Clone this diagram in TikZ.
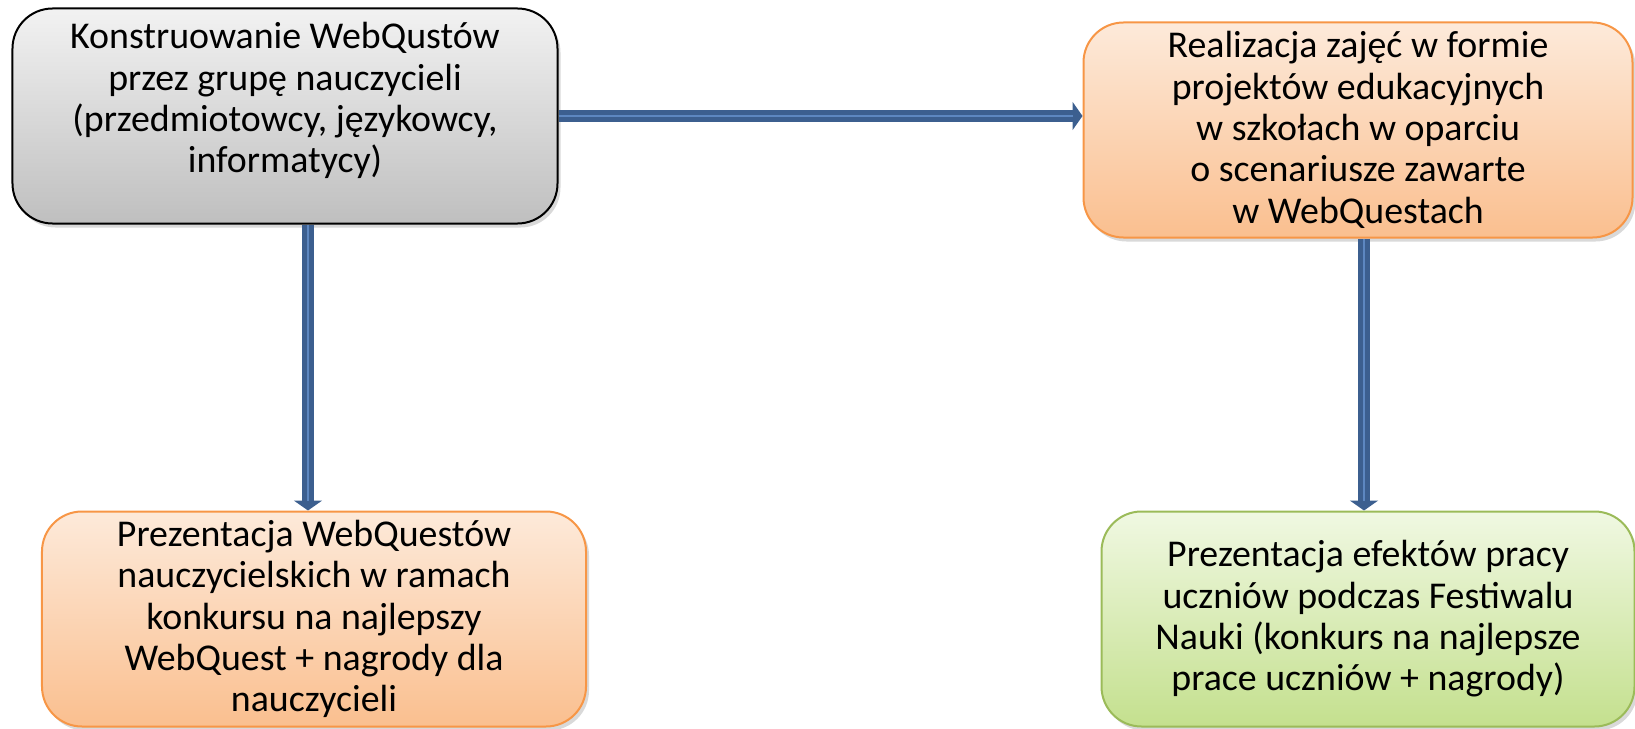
\documentclass[tikz,border=0pt]{standalone}
\usepackage{fontspec}
\setmainfont{Carlito}
\usetikzlibrary{arrows.meta,shadows}
\definecolor{greytop}{HTML}{F2F2F2}
\definecolor{greybot}{HTML}{BFBFBF}
\definecolor{orangetop}{HTML}{FDEADA}
\definecolor{orangebot}{HTML}{FABF8F}
\definecolor{orangeline}{HTML}{F79646}
\definecolor{greentop}{HTML}{F0F8E2}
\definecolor{greenbot}{HTML}{C4E08E}
\definecolor{greenline}{HTML}{9BBB59}
\definecolor{arrowblue}{HTML}{3C5F8F}
\definecolor{stripeblue}{HTML}{5D87C0}
\tikzset{
  box_/.style    = {shape=rectangle, rounded corners=40bp, align=center, line width=2bp,
                    minimum height=215bp, inner sep=2bp,
                    font=\fontsize{38}{41.5}\selectfont,
                    drop shadow={shadow xshift=3bp, shadow yshift=-4bp, opacity=.3}},
  grey_/.style   = {box_, draw=black, top color=greytop, bottom color=greybot},
  orange_/.style = {box_, draw=orangeline, top color=orangetop, bottom color=orangebot},
  green_/.style  = {box_, draw=greenline, top color=greentop, bottom color=greenbot},
  arrow_/.style  = {draw=arrowblue, line width=12bp, -{Triangle[width=28bp,length=10bp]},
                    postaction={draw=stripeblue, line width=2bp, -, shorten >=10bp}}
}
\begin{document}
\begin{tikzpicture}[x=1bp, y=-1bp]
  \useasboundingbox (0,0) rectangle (1635,729);
  % boxes
  \node [grey_, minimum width=545bp] (konstr) at (285,116)
    {Konstruowanie WebQustów\\przez grupę nauczycieli\\(przedmiotowcy, językowcy,\\informatycy)\\[-5bp]\mbox{}};
  \node [orange_, minimum width=549bp] (realiz) at (1358,130)
    {Realizacja zajęć w formie\\projektów edukacyjnych\\w szkołach w oparciu\\o scenariusze zawarte\\w WebQuestach};
  \node [orange_, minimum width=544bp] (prezn) at (314,619)
    {Prezentacja WebQuestów\\nauczycielskich w ramach\\konkursu na najlepszy\\WebQuest + nagrody dla\\nauczycieli};
  \node [green_, minimum width=533bp] (prezu) at (1368,619)
    {Prezentacja efektów pracy\\uczniów podczas Festiwalu\\Nauki (konkurs na najlepsze\\prace uczniów + nagrody)};
  % arrows
  \draw [arrow_] (konstr.east) -- (konstr.east -| realiz.west);
  \draw [arrow_] ([xshift=23bp]konstr.south) -- ([xshift=23bp]konstr.south |- prezn.north);
  \draw [arrow_] ([xshift=6bp]realiz.south) -- ([xshift=6bp]realiz.south |- prezu.north);
\end{tikzpicture}
\end{document}
